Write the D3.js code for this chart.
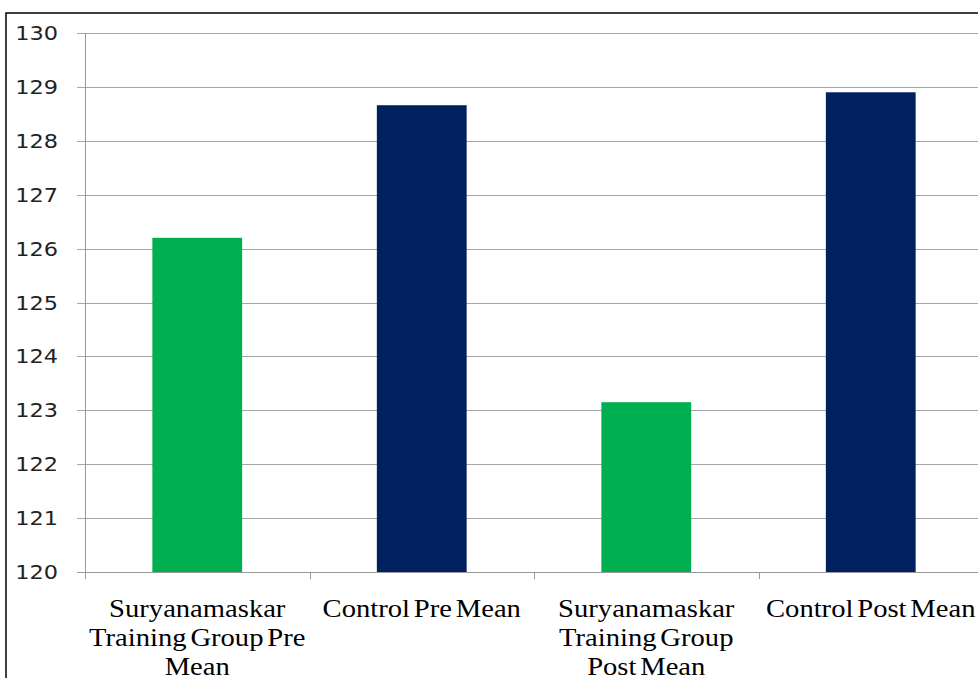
<!DOCTYPE html>
<html>
<head>
<meta charset="utf-8">
<script src="https://cdn.jsdelivr.net/npm/d3@7"></script>
<style>
  html, body { margin: 0; padding: 0; background: #fff; }
  svg { display: block; }
</style>
</head>
<body>
<svg id="chart" width="978" height="678"></svg>
<script>
// Group means
const categories = [
  "Suryanamaskar Training Group Pre Mean",
  "Control Pre Mean",
  "Suryanamaskar Training Group Post Mean",
  "Control Post Mean"
];
const categoryLines = [
  ["Suryanamaskar", "Training Group Pre", "Mean"],
  ["Control Pre Mean"],
  ["Suryanamaskar", "Training Group", "Post Mean"],
  ["Control Post Mean"]
];
const values = [126.2, 128.66, 123.15, 128.9];
const barColors = ["#00b050", "#002060", "#00b050", "#002060"];
const yTicks = [120, 121, 122, 123, 124, 125, 126, 127, 128, 129, 130];

const svg = d3.select("#chart");

// outer frame
svg.append("rect")
  .attr("x", 6).attr("y", 13)
  .attr("width", 1000).attr("height", 700)
  .attr("fill", "none").attr("stroke", "#000").attr("stroke-width", 1.5);

const x = d3.scaleBand().domain(categories).range([85, 983]).padding(0);
const y = d3.scaleLinear().domain([120, 130]).range([572, 33]);

// horizontal gridlines with left tick stubs
svg.append("g").selectAll("line").data(yTicks).join("line")
  .attr("x1", 77).attr("x2", 990)
  .attr("y1", d => Math.round(y(d)) + 0.5).attr("y2", d => Math.round(y(d)) + 0.5)
  .attr("stroke", "#a6a6a6").attr("stroke-width", 1);

// y tick labels
svg.append("g").selectAll("text").data(yTicks).join("text")
  .attr("transform", d => `translate(58,${y(d) + 7}) scale(1.18,1)`)
  .attr("text-anchor", "end")
  .attr("font-family", "DejaVu Sans, Verdana, sans-serif")
  .attr("font-size", 19)
  .attr("fill", "#222")
  .text(d => d);

// bars
const barW = x.bandwidth() * 0.4;
svg.append("g").selectAll("rect").data(values).join("rect")
  .attr("x", (d, i) => x(categories[i]) + (x.bandwidth() - barW) / 2)
  .attr("y", d => y(d))
  .attr("width", barW)
  .attr("height", d => y(120) - y(d))
  .attr("fill", (d, i) => barColors[i]);

// axes lines
svg.append("line")
  .attr("x1", 85.5).attr("x2", 85.5).attr("y1", y(130)).attr("y2", 579)
  .attr("stroke", "#9a9a9a").attr("stroke-width", 1);
svg.append("line")
  .attr("x1", 77).attr("x2", 990).attr("y1", 572.5).attr("y2", 572.5)
  .attr("stroke", "#9a9a9a").attr("stroke-width", 1);
svg.append("g").selectAll("line").data(categories.slice(1)).join("line")
  .attr("x1", d => Math.round(x(d)) + 0.5).attr("x2", d => Math.round(x(d)) + 0.5)
  .attr("y1", 572).attr("y2", 579)
  .attr("stroke", "#9a9a9a").attr("stroke-width", 1);

// category labels
const lab = svg.append("g");
categories.forEach((c, i) => {
  const cx = x(c) + x.bandwidth() / 2;
  categoryLines[i].forEach((ln, j) => {
    lab.append("text")
      .attr("transform", `translate(${cx},${617 + j * 29}) scale(1.1,1)`)
      .attr("text-anchor", "middle")
      .attr("font-family", "Liberation Serif, Times New Roman, serif")
      .attr("font-size", 26)
      .attr("word-spacing", -3)
      .attr("fill", "#000")
      .text(ln);
  });
});
</script>
</body>
</html>
